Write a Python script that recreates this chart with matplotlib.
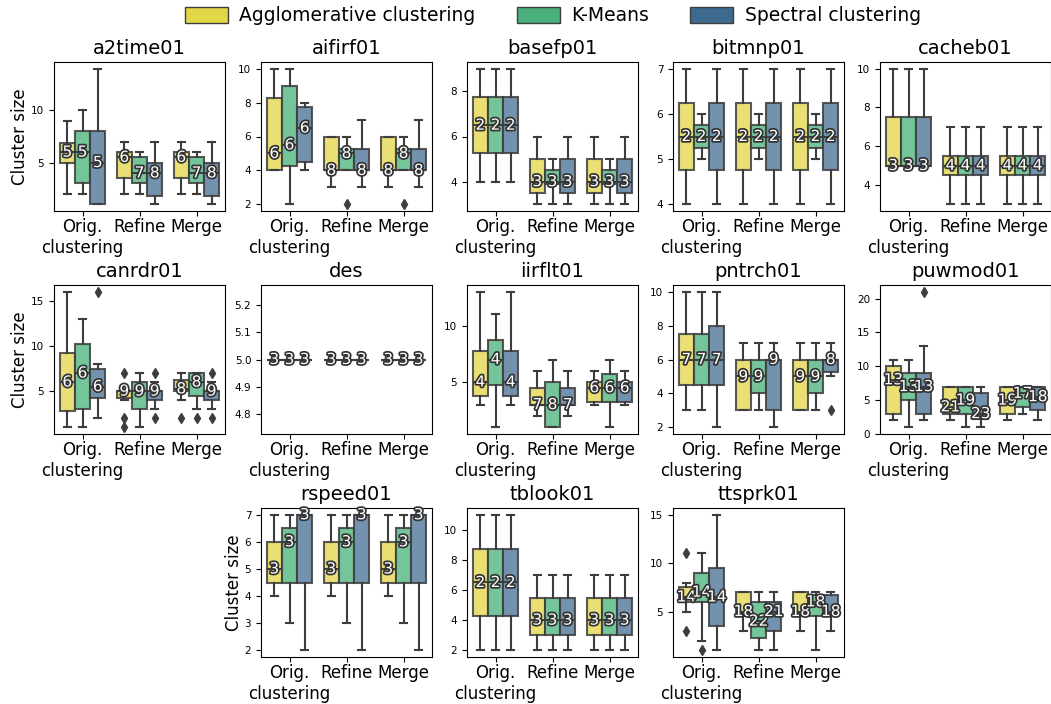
import matplotlib
matplotlib.use("Agg")
import matplotlib.pyplot as plt
import matplotlib.patheffects as pe
from matplotlib.patches import Patch
from matplotlib.ticker import MaxNLocator

groups = ["Orig.\nclustering", "Refine", "Merge"]
methods = ["Agglomerative clustering", "K-Means", "Spectral clustering"]
box_colors = ["#e6da5c", "#5dbb8a", "#5a7fa0"]
legend_colors = ["#e3d747", "#4aaf7a", "#3f6a8f"]

# box stats (whislo, q1, med, q3, whishi), order: Orig A/K/S, Refine A/K/S, Merge A/K/S
a2time01 = [(2, 5, 6, 6.9, 9), (2, 3, 6, 8, 10), (1, 1, 5, 8, 14),
            (2, 3.5, 5.5, 6, 7), (2, 3, 4, 5.5, 6), (1, 1.75, 4, 5, 7),
            (2, 3.5, 5.5, 6, 7), (2, 3, 4, 5.5, 6), (1, 1.75, 4, 5, 7)]
a2time01_k = [5, 5, 5, 6, 7, 8, 6, 7, 8]
a2time01_out = {}

aifirf01 = [(4, 4, 5, 8.25, 10), (2, 4.25, 5.5, 9, 10), (4, 4.5, 6.5, 7.75, 8),
            (3, 4, 4, 6, 6), (4, 4, 5, 5.25, 6), (3, 4, 4, 5.25, 7),
            (3, 4, 4, 6, 6), (4, 4, 5, 5.25, 6), (3, 4, 4, 5.25, 7)]
aifirf01_k = [6, 6, 6, 8, 8, 8, 8, 8, 8]
aifirf01_out = {4: [2], 7: [2]}

basefp01 = [(4, 5.25, 6.5, 7.75, 9), (4, 5.25, 6.5, 7.75, 9), (4, 5.25, 6.5, 7.75, 9),
            (3, 3.5, 4, 5, 6), (3, 3.875, 4, 4.5, 5), (3, 3.5, 4, 5, 6),
            (3, 3.5, 4, 5, 6), (3, 3.875, 4, 4.5, 5), (3, 3.5, 4, 5, 6)]
basefp01_k = [2, 2, 2, 3, 3, 3, 3, 3, 3]
basefp01_out = {}

bitmnp01 = [(4, 4.75, 5.5, 6.25, 7), (5, 5.25, 5.5, 5.75, 6), (4, 4.75, 5.5, 6.25, 7)] * 3
bitmnp01_k = [2] * 9
bitmnp01_out = {}

cacheb01 = [(5, 5, 5, 7.5, 10)] * 3 + [(3, 4.5, 5, 5.5, 7)] * 6
cacheb01_k = [3, 3, 3, 4, 4, 4, 4, 4, 4]
cacheb01_out = {}

canrdr01 = [(1, 2.75, 6, 9.25, 16), (1, 3, 7, 10.25, 13), (2, 4.25, 5.5, 7.5, 8),
            (4, 4.25, 5, 5, 5), (1, 3, 5, 6, 7), (3, 4, 5, 5, 6),
            (4, 5, 5.25, 6.25, 7), (3, 4.5, 6, 7, 7), (3, 4, 5, 5, 6)]
canrdr01_k = [6, 6, 6, 9, 9, 9, 8, 8, 9]
canrdr01_out = {2: [16], 3: [7, 2, 1], 5: [7, 2], 6: [2], 7: [2], 8: [7, 2]}

des = [(5, 5, 5, 5, 5)] * 9
des_k = [3] * 9
des_out = {}

iirflt01 = [(3, 3.75, 5, 7.75, 13), (1, 4.75, 7, 8.75, 11), (3, 3.75, 5, 7.75, 13),
            (2, 3, 3, 4.5, 6), (1, 1, 3, 5, 7), (2, 3, 3, 4.5, 6),
            (3, 3.25, 4.5, 5, 6), (1, 3.25, 4.5, 5.75, 7), (3, 3.25, 4.5, 5, 6)]
iirflt01_k = [4, 4, 4, 7, 8, 7, 6, 6, 6]
iirflt01_out = {}

pntrch01 = [(3, 4.5, 6, 7.5, 10), (3, 4.5, 6, 7.5, 10), (2, 4.5, 6, 8, 10),
            (3, 3, 5, 6, 7), (3, 4, 5, 6, 7), (2, 3, 6, 6, 7),
            (3, 3, 5, 6, 7), (3, 4, 5, 6, 7), (5, 5.25, 6, 6, 7)]
pntrch01_k = [7, 7, 7, 9, 9, 9, 9, 9, 8]
pntrch01_out = {8: [3]}

puwmod01 = [(2, 3, 8, 10, 11), (1, 5, 7, 9, 11), (2, 3, 7, 9, 13),
            (2, 3, 4, 7, 7), (1, 3, 5, 7, 7), (1, 2.25, 3, 6, 7),
            (2, 3, 5, 7, 7), (3, 4, 6, 7, 7), (2, 3.5, 5.5, 7, 7)]
puwmod01_k = [13, 13, 13, 21, 19, 23, 19, 17, 18]
puwmod01_out = {2: [21]}

rspeed01 = [(4, 4.5, 5, 6, 7), (3, 4.5, 6, 6.5, 7), (2, 4.5, 7, 7, 7)] * 3
rspeed01_k = [3] * 9
rspeed01_out = {}

tblook01 = [(2, 4.25, 6.5, 8.75, 11)] * 3 + [(2, 3, 4, 5.5, 7)] * 6
tblook01_k = [2, 2, 2, 3, 3, 3, 3, 3, 3]
tblook01_out = {}

ttsprk01 = [(5, 6, 6.5, 7.5, 8), (2, 6, 7, 9, 11), (1, 3.5, 6.5, 9.5, 15),
            (3, 4.5, 5, 7, 7), (1, 2.25, 4, 6, 7), (1, 3, 5, 6, 7),
            (3, 4.5, 5, 7, 7), (1, 4.5, 6, 6.75, 7), (3, 4.5, 5, 6.75, 7)]
ttsprk01_k = [14, 14, 14, 18, 22, 21, 18, 18, 18]
ttsprk01_out = {0: [11, 3], 1: [1]}

benchmarks = [
    ("a2time01", a2time01, a2time01_k, a2time01_out),
    ("aifirf01", aifirf01, aifirf01_k, aifirf01_out),
    ("basefp01", basefp01, basefp01_k, basefp01_out),
    ("bitmnp01", bitmnp01, bitmnp01_k, bitmnp01_out),
    ("cacheb01", cacheb01, cacheb01_k, cacheb01_out),
    ("canrdr01", canrdr01, canrdr01_k, canrdr01_out),
    ("des", des, des_k, des_out),
    ("iirflt01", iirflt01, iirflt01_k, iirflt01_out),
    ("pntrch01", pntrch01, pntrch01_k, pntrch01_out),
    ("puwmod01", puwmod01, puwmod01_k, puwmod01_out),
    ("rspeed01", rspeed01, rspeed01_k, rspeed01_out),
    ("tblook01", tblook01, tblook01_k, tblook01_out),
    ("ttsprk01", ttsprk01, ttsprk01_k, ttsprk01_out),
]

W, H = 1051, 704
fig = plt.figure(figsize=(W / 100, H / 100), dpi=100)

col_left = [54, 261, 467, 673, 880]
row_top = [62, 285, 508]
aw, ah = 171, 149
slots = [(r, c) for r in range(2) for c in range(5)] + [(2, 1), (2, 2), (2, 3)]

gray = "#3d3d3d"
bw = 0.8 / 3

for (name, stats, ks, outs), (r, c) in zip(benchmarks, slots):
    ax = fig.add_axes([col_left[c] / W, 1 - (row_top[r] + ah) / H, aw / W, ah / H])
    bxp_stats = []
    pos = []
    for i, s in enumerate(stats):
        lo, q1, med, q3, hi = s
        bxp_stats.append(dict(whislo=lo, q1=q1, med=med, q3=q3, whishi=hi,
                              fliers=outs.get(i, [])))
        pos.append(i // 3 + (i % 3 - 1) * bw)
    res = ax.bxp(bxp_stats, positions=pos, widths=bw * 0.98, patch_artist=True,
                 manage_ticks=False,
                 boxprops=dict(edgecolor=gray, linewidth=1.5),
                 whiskerprops=dict(color=gray, linewidth=1.5),
                 capprops=dict(color=gray, linewidth=1.5),
                 medianprops=dict(color=gray, linewidth=1.5),
                 flierprops=dict(marker="d", markerfacecolor=gray, markeredgecolor=gray,
                                 markersize=5))
    for i, b in enumerate(res["boxes"]):
        b.set_facecolor(box_colors[i % 3])
        b.set_alpha(0.85)
    for i, (s, k) in enumerate(zip(stats, ks)):
        ax.text(pos[i], s[2], str(k), ha="center", va="center", fontsize=11,
                color="white", zorder=5,
                path_effects=[pe.withStroke(linewidth=2.5, foreground="#333333")])
    ax.set_xlim(-0.5, 2.5)
    ax.set_xticks([0, 1, 2])
    ax.set_xticklabels(groups, fontsize=12)
    ax.tick_params(axis="x", pad=1.5)
    ax.yaxis.set_major_locator(MaxNLocator(nbins=6, integer=True, steps=[1, 2, 2.5, 5, 10]))
    ax.tick_params(axis="y", labelsize=7.5)
    ax.set_title(name, fontsize=14)
    if name in ("a2time01", "canrdr01", "rspeed01"):
        ax.set_ylabel("Cluster size", fontsize=12, labelpad=1.5)

handles = [Patch(facecolor=legend_colors[i], edgecolor=gray, label=methods[i]) for i in range(3)]
fig.legend(handles=handles, loc="upper center", ncol=3, frameon=False, fontsize=13.5,
           bbox_to_anchor=(0.526, 1.015), handlelength=2.3, handleheight=1.0,
           handletextpad=0.6, columnspacing=2.2)

fig.savefig("out.png", dpi=100)
